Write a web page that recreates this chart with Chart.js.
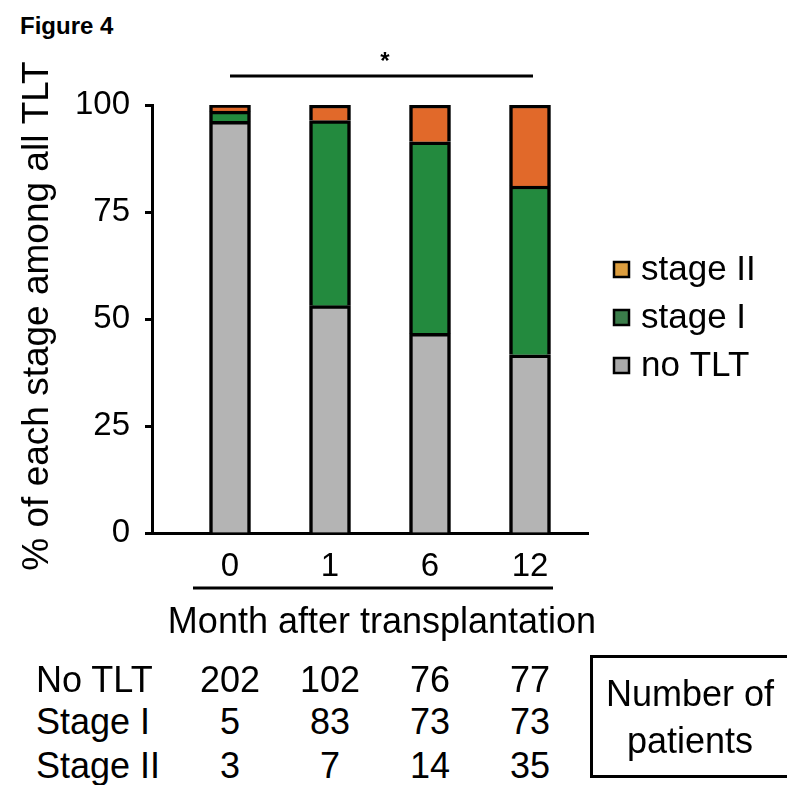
<!DOCTYPE html>
<html>
<head>
<meta charset="utf-8">
<title>Figure 4</title>
<script src="https://cdn.jsdelivr.net/npm/chart.js@4/dist/chart.umd.min.js"></script>
<style>
  html, body { margin: 0; padding: 0; background: #fff; }
  #page { position: relative; width: 787px; height: 785px; overflow: hidden;
          font-family: "Liberation Sans", Arial, Helvetica, sans-serif; color: #000; }
  #fig { position: absolute; left: 20px; top: 12px; font-weight: bold; font-size: 24px; line-height: 28px; }
  #plot { position: absolute; left: 0; top: 0; }
  .cell { position: absolute; font-size: 36px; line-height: 40px; white-space: nowrap; }
  .num { transform: translateX(-50%); }
  #box { position: absolute; left: 590px; top: 655px; width: 200px; height: 123px;
         border: 3px solid #000; box-sizing: border-box; }
  #box div { position: absolute; left: 0; width: 194px; text-align: center; font-size: 36px; line-height: 40px; }
</style>
</head>
<body>
<div id="page">
  <div id="fig">Figure 4</div>
  <canvas id="plot" width="787" height="660"></canvas>
  <div id="table"></div>
  <div id="box"><div style="top:16px">Number of</div><div style="top:63px">patients</div></div>
</div>
<script>
// Time points (months after transplantation)
const months = ['0', '1', '6', '12'];

// Patients per stage at each time point
const noTLT   = [202, 102, 76, 77];
const stageI  = [5, 83, 73, 73];
const stageII = [3, 7, 14, 35];

// Labels
const seriesNames = ['no TLT', 'stage I', 'stage II'];
const rowLabels   = ['No TLT', 'Stage I', 'Stage II'];
const yTickValues = [0, 25, 50, 75, 100];
const xTitle = 'Month after transplantation';
const yTitle = '% of each stage among all TLT';

// Colours
const barColors    = ['#b4b4b4', '#238a3e', '#e1692a'];
const legendColors = ['#a9a9a9', '#3b7d4a', '#dc9d3e'];

const counts = [noTLT, stageI, stageII];
const totals = months.map((m, i) => noTLT[i] + stageI[i] + stageII[i]);
const percentOf = arr => arr.map((v, i) => ({ x: i, y: v / totals[i] * 100 }));

const FONT = '"Liberation Sans", Arial, Helvetica, sans-serif';

// Axis titles, significance bracket, label underline and the stage key
const extras = {
  id: 'extras',
  afterDraw(chart) {
    const { ctx, chartArea, scales: { x, y } } = chart;
    ctx.save();
    ctx.strokeStyle = '#000';
    ctx.fillStyle = '#000';
    ctx.lineWidth = 3;
    ctx.textAlign = 'center';
    ctx.textBaseline = 'middle';

    // axis titles
    ctx.font = '36px ' + FONT;
    ctx.fillText(xTitle, x.getPixelForValue(1.52), chartArea.bottom + 90);
    ctx.save();
    ctx.translate(38, y.getPixelForValue(50.7));
    ctx.rotate(-Math.PI / 2);
    ctx.font = '37px ' + FONT;
    ctx.fillText(yTitle, 0, 0);
    ctx.restore();

    // significance bracket over all time points
    const yb = chartArea.top - 29;
    ctx.beginPath();
    ctx.moveTo(x.getPixelForValue(0), yb);
    ctx.lineTo(x.getPixelForValue(3) + 3, yb);
    ctx.stroke();
    ctx.font = 'bold 24px ' + FONT;
    ctx.fillText('*', x.getPixelForValue(1.55), yb - 14);

    // underline below the month labels
    const yu = chartArea.bottom + 55;
    ctx.beginPath();
    ctx.moveTo(x.getPixelForValue(-0.37), yu);
    ctx.lineTo(x.getPixelForValue(3.23), yu);
    ctx.stroke();

    // stage key
    const mid = (chartArea.top + chartArea.bottom) / 2 - 2;
    const order = [2, 1, 0];
    ctx.font = '35px ' + FONT;
    ctx.textAlign = 'left';
    order.forEach((di, k) => {
      const cy = mid + (k - 1) * 48;
      const bx = chartArea.right + 26;
      ctx.fillStyle = legendColors[di];
      ctx.fillRect(bx, cy - 7, 15, 15);
      ctx.lineWidth = 2.5;
      ctx.strokeRect(bx, cy - 7, 15, 15);
      ctx.fillStyle = '#000';
      ctx.fillText(chart.data.datasets[di].label, bx + 27, cy + 1);
    });
    ctx.restore();
  }
};

const chart = new Chart(document.getElementById('plot'), {
  type: 'bar',
  data: {
    datasets: seriesNames.map((name, di) => ({
      label: name,
      data: percentOf(counts[di]),
      backgroundColor: barColors[di],
      borderColor: '#000',
      borderWidth: 3.5,
      barThickness: 41
    }))
  },
  options: {
    responsive: false,
    animation: false,
    devicePixelRatio: 1,
    layout: { padding: { top: 105, right: 199, bottom: 0, left: 0 } },
    plugins: { legend: { display: false }, tooltip: { enabled: false } },
    scales: {
      x: {
        type: 'linear',
        offset: false,
        stacked: true,
        min: -0.78,
        max: 3.58,
        afterFit: s => { s.height = 127; },
        afterBuildTicks: s => { s.ticks = months.map((m, i) => ({ value: i })); },
        grid: { display: true, drawOnChartArea: false, drawTicks: false, offset: false },
        border: { display: true, color: '#000', width: 3 },
        ticks: {
          color: '#000',
          font: { family: FONT, size: 33 },
          padding: 14,
          callback: v => months[v]
        },
        title: { display: false }
      },
      y: {
        stacked: true,
        min: 0,
        max: 100,
        afterFit: s => { s.width = 152; },
        afterBuildTicks: s => { s.ticks = yTickValues.map(v => ({ value: v })); },
        grid: { display: true, drawOnChartArea: false, drawTicks: true, tickLength: 7, tickWidth: 3, tickColor: '#000' },
        border: { display: true, color: '#000', width: 3 },
        ticks: { color: '#000', font: { family: FONT, size: 33 }, padding: 15 },
        title: { display: false }
      }
    }
  },
  plugins: [extras]
});

// Number of patients per stage, one column under each bar
const table = document.getElementById('table');
const rowCentres = [680, 722, 766];
rowLabels.forEach((lab, r) => {
  const top = rowCentres[r] - 20;
  const head = document.createElement('div');
  head.className = 'cell';
  head.style.left = '36px';
  head.style.top = top + 'px';
  head.textContent = lab;
  table.appendChild(head);
  counts[r].forEach((n, i) => {
    const c = document.createElement('div');
    c.className = 'cell num';
    c.style.left = chart.scales.x.getPixelForValue(i) + 'px';
    c.style.top = top + 'px';
    c.textContent = n;
    table.appendChild(c);
  });
});
</script>
</body>
</html>
